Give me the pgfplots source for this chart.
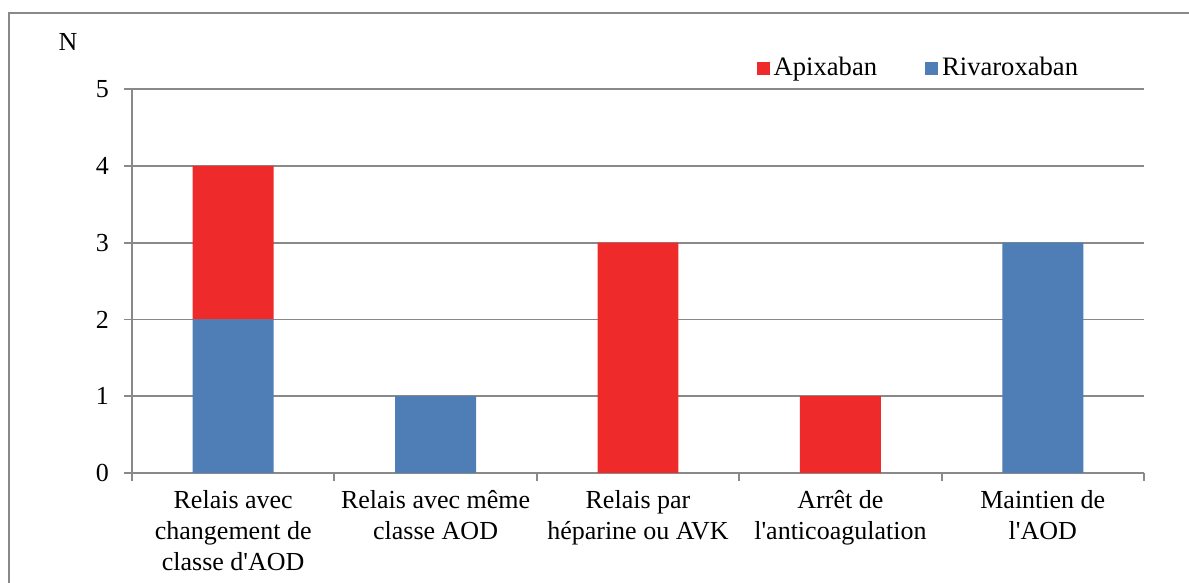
\documentclass[border=0pt]{standalone}
\usepackage{fontspec}
\setmainfont{Liberation Serif}
\usepackage{pgfplots}
\pgfplotsset{compat=1.18}
\definecolor{apix}{HTML}{EE2A2A}
\definecolor{riva}{HTML}{4F7DB5}
\definecolor{axgray}{HTML}{898989}
\begin{document}
\begin{tikzpicture}
\begin{axis}[
  at={(0,0)}, anchor=south west,
  scale only axis, width=506pt, height=192pt,
  ybar stacked, bar width=0.4,
  xmin=-0.5, xmax=4.5, ymin=0, ymax=5,
  axis x line*=bottom, axis y line*=left,
  axis line style={axgray, line width=0.9pt},
  ytick={0,1,2,3,4,5},
  ymajorgrids, grid style={axgray, line width=0.9pt},
  xtick={0,1,2,3,4},
  minor xtick={-0.5,0.5,1.5,2.5,3.5,4.5},
  major x tick style={draw=none},
  minor x tick style={axgray, line width=0.9pt},
  y tick style={axgray, line width=0.9pt},
  tick align=outside, major tick length=4pt, minor tick length=4pt,
  xticklabels={{Relais avec\\changement de\\classe d\textquotesingle AOD},
               {Relais avec même\\classe AOD},
               {Relais par\\héparine ou AVK},
               {Arrêt de\\l\textquotesingle anticoagulation},
               {Maintien de\\l\textquotesingle AOD}},
  xticklabel style={align=center, font=\fontsize{13}{15.5}\selectfont, yshift=-1pt},
  yticklabel style={font=\fontsize{13}{15}\selectfont, xshift=-4pt},
  /pgf/number format/assume math mode=true,
  legend columns=2, reverse legend,
  legend style={at={(0.611,1.0547)}, anchor=west, draw=none, fill=none,
    font=\fontsize{13.3}{15}\selectfont,
    /tikz/every even column/.append style={column sep=22pt}},
  legend image code/.code={\fill[#1] (0pt,-3.25pt) rectangle (6.5pt,3.25pt);},
]
\addplot[fill=riva, draw=none] coordinates {(0,2) (1,1) (2,0) (3,0) (4,3)};
\addlegendentry{Rivaroxaban}
\addplot[fill=apix, draw=none] coordinates {(0,2) (1,0) (2,3) (3,1) (4,0)};
\addlegendentry{Apixaban}
\end{axis}
\node[font=\fontsize{13}{15}\selectfont] at (-32pt,215.5pt) {N};
\draw[axgray, line width=1pt] (-61.5pt,-80pt) -- (-61.5pt,230pt) -- (560pt,230pt);
\pgfresetboundingbox
\useasboundingbox (-66pt,-55pt) rectangle (528.5pt,236.5pt);
\end{tikzpicture}
\end{document}
